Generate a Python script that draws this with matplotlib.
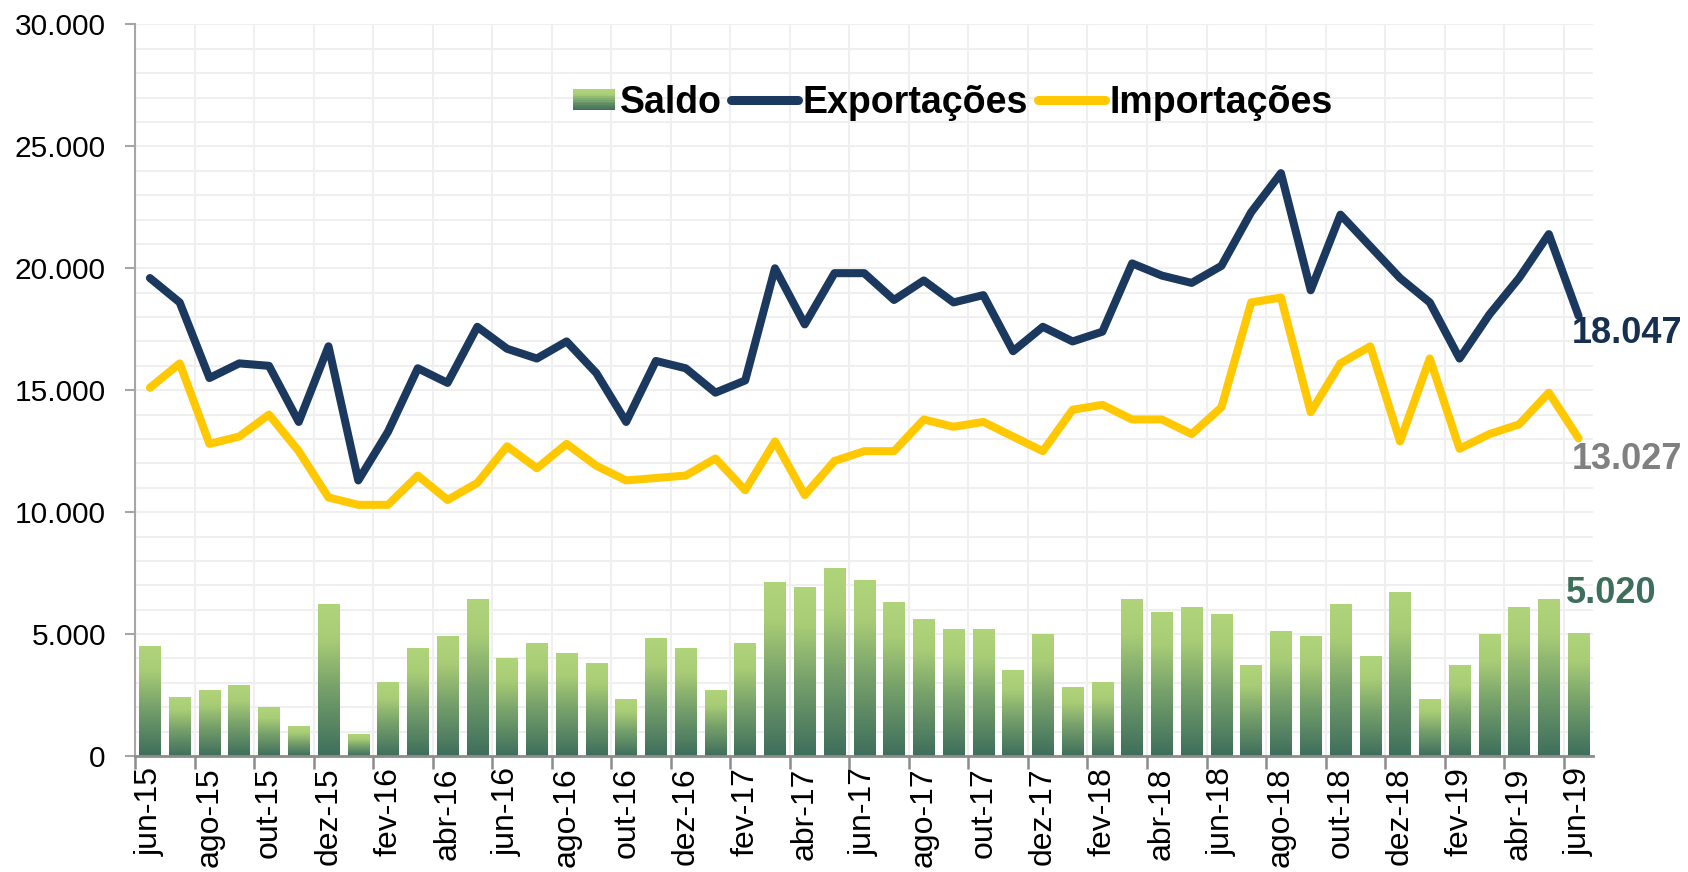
import numpy as np
import matplotlib.pyplot as plt
from matplotlib.colors import LinearSegmentedColormap
from matplotlib.legend_handler import HandlerBase
from matplotlib.lines import Line2D
from matplotlib.patches import Rectangle
from matplotlib.ticker import MultipleLocator, FuncFormatter

plt.rcParams['font.family'] = ['Liberation Sans', 'DejaVu Sans']

# dados mensais, jun-15 a jun-19 (US$ milhões)
meses = ['jun-15', 'jul-15', 'ago-15', 'set-15', 'out-15', 'nov-15', 'dez-15',
         'jan-16', 'fev-16', 'mar-16', 'abr-16', 'mai-16', 'jun-16', 'jul-16',
         'ago-16', 'set-16', 'out-16', 'nov-16', 'dez-16', 'jan-17', 'fev-17',
         'mar-17', 'abr-17', 'mai-17', 'jun-17', 'jul-17', 'ago-17', 'set-17',
         'out-17', 'nov-17', 'dez-17', 'jan-18', 'fev-18', 'mar-18', 'abr-18',
         'mai-18', 'jun-18', 'jul-18', 'ago-18', 'set-18', 'out-18', 'nov-18',
         'dez-18', 'jan-19', 'fev-19', 'mar-19', 'abr-19', 'mai-19', 'jun-19']

exportacoes = [19600, 18600, 15500, 16100, 16000, 13700, 16800,
               11300, 13300, 15900, 15300, 17600, 16700, 16300,
               17000, 15700, 13700, 16200, 15900, 14900, 15400,
               20000, 17700, 19800, 19800, 18700, 19500, 18600,
               18900, 16600, 17600, 17000, 17400, 20200, 19700,
               19400, 20100, 22300, 23900, 19100, 22200, 20900,
               19600, 18600, 16300, 18100, 19600, 21400, 18047]

importacoes = [15100, 16100, 12800, 13100, 14000, 12500, 10600,
               10300, 10300, 11500, 10500, 11200, 12700, 11800,
               12800, 11900, 11300, 11400, 11500, 12200, 10900,
               12900, 10700, 12100, 12500, 12500, 13800, 13500,
               13700, 13100, 12500, 14200, 14400, 13800, 13800,
               13200, 14300, 18600, 18800, 14100, 16100, 16800,
               12900, 16300, 12600, 13200, 13600, 14900, 13027]

saldo = [4500, 2400, 2700, 2900, 2000, 1200, 6200,
         900, 3000, 4400, 4900, 6400, 4000, 4600,
         4200, 3800, 2300, 4800, 4400, 2700, 4600,
         7100, 6900, 7700, 7200, 6300, 5600, 5200,
         5200, 3500, 5000, 2800, 3000, 6400, 5900,
         6100, 5800, 3700, 5100, 4900, 6200, 4100,
         6700, 2300, 3700, 5000, 6100, 6400, 5020]

cor_exp = '#1B385E'
cor_imp = '#FFC800'
verde = LinearSegmentedColormap.from_list(
    'verde', [(0.0, '#3E6E5C'), (0.45, '#77A16B'), (0.78, '#A9CD76'), (1.0, '#B0D47A')])

fig = plt.figure(figsize=(16.88, 8.72), dpi=100)
ax = fig.add_axes([0.080, 0.133, 0.864, 0.839])

x = np.arange(len(meses))
largura = 0.72
grad = np.linspace(0, 1, 256).reshape(-1, 1)

# barras com degradê (cada barra tem o degradê inteiro)
for xi, v in zip(x, saldo):
    ax.imshow(grad, cmap=verde, origin='lower', aspect='auto', zorder=2,
              extent=[xi - largura / 2, xi + largura / 2, 0, v])

ax.plot(x, exportacoes, color=cor_exp, lw=5.8, solid_joinstyle='round',
        solid_capstyle='round', zorder=3)
ax.plot(x, importacoes, color=cor_imp, lw=5.8, solid_joinstyle='round',
        solid_capstyle='round', zorder=3)

ax.set_xlim(-0.5, len(meses) - 0.5)
ax.set_ylim(0, 30000)

# eixos e grade
ax.set_xticks(np.arange(-0.5, len(meses) - 1, 2))
ax.set_xticklabels([])
ax.set_xticks(x[::2], minor=True)
ax.set_xticklabels(meses[::2], minor=True, rotation=90, fontsize=23)
ax.tick_params(axis='x', which='major', length=9, width=1.8, color='#8C8C8C')
ax.tick_params(axis='x', which='minor', length=0, pad=8)

ax.yaxis.set_major_locator(MultipleLocator(5000))
ax.yaxis.set_minor_locator(MultipleLocator(1000))
ax.yaxis.set_major_formatter(FuncFormatter(lambda v, p: f'{int(v):,}'.replace(',', '.')))
ax.tick_params(axis='y', which='major', length=7, width=1.5, color='#A6A6A6',
               labelsize=21.5, pad=14)
ax.tick_params(axis='y', which='minor', length=0)

ax.grid(True, axis='y', which='both', color='#EFEFEF', lw=1.5, zorder=0)
ax.grid(True, axis='x', which='major', color='#EFEFEF', lw=1.5, zorder=0)
ax.set_axisbelow(True)

for s in ['top', 'right']:
    ax.spines[s].set_visible(False)
ax.spines['left'].set_color('#A6A6A6')
ax.spines['left'].set_linewidth(1.5)
ax.spines['bottom'].set_color('#8C8C8C')
ax.spines['bottom'].set_linewidth(2)
ax.spines['bottom'].set_zorder(4)

# rótulos do último mês
ultimo = len(meses) - 1
ax.annotate(f'{exportacoes[-1]:,}'.replace(',', '.'), xy=(ultimo, exportacoes[-1]),
            xytext=(-5, -13), textcoords='offset points', ha='left', va='center',
            fontsize=26, fontweight='bold', color='#17304F', annotation_clip=False)
ax.annotate(f'{importacoes[-1]:,}'.replace(',', '.'), xy=(ultimo, importacoes[-1]),
            xytext=(-5, -15), textcoords='offset points', ha='left', va='center',
            fontsize=26, fontweight='bold', color='#808080', annotation_clip=False)
ax.annotate(f'{saldo[-1]:,}'.replace(',', '.'), xy=(ultimo, saldo[-1]),
            xytext=(-9, 29), textcoords='offset points', ha='left', va='center',
            fontsize=26, fontweight='bold', color='#3E6E5C', annotation_clip=False)


# legenda: quadrado com degradê para o saldo
class HandlerGradiente(HandlerBase):
    def create_artists(self, legend, orig_handle, xdescent, ydescent,
                       width, height, fontsize, trans):
        n = 12
        w = width * 0.62
        h = height * 0.8
        x0 = -xdescent + width - w
        y0 = -ydescent + (height - h) / 2
        arts = []
        for i in range(n):
            r = Rectangle((x0, y0 + h * i / n), w, h / n + 0.3,
                          facecolor=verde(i / (n - 1)), edgecolor='none',
                          transform=trans)
            arts.append(r)
        return arts


h_saldo = Rectangle((0, 0), 1, 1)
h_exp = Line2D([], [], color=cor_exp, lw=6.5, solid_capstyle='round')
h_imp = Line2D([], [], color=cor_imp, lw=6.5, solid_capstyle='round')
fig.legend([h_saldo, h_exp, h_imp], ['Saldo', 'Exportações', 'Importações'],
           handler_map={Rectangle: HandlerGradiente()},
           loc='center', bbox_to_anchor=(0.557, 0.882), ncol=3, frameon=False,
           prop={'size': 27, 'weight': 'bold'}, handlelength=1.8,
           handletextpad=0.12, columnspacing=0.25)

fig.savefig('out.png', dpi=100)
